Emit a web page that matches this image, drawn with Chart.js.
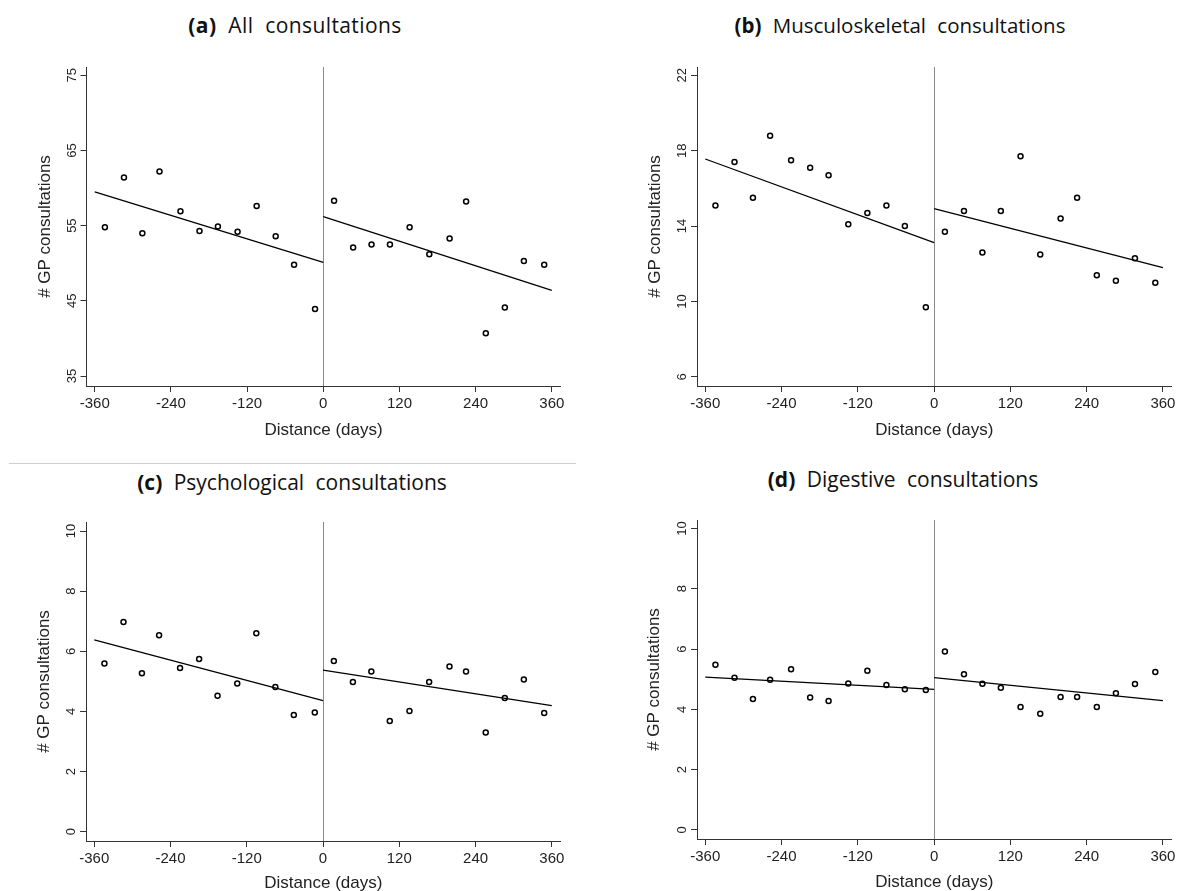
<!DOCTYPE html>
<html>
<head>
<meta charset="utf-8">
<script src="https://cdn.jsdelivr.net/npm/chart.js@4"></script>
<style>
  html, body { margin: 0; padding: 0; background: #fff; overflow: hidden; }
  #page { position: relative; width: 1178px; height: 891px; overflow: hidden; }
  canvas { position: absolute; }
  .panel-title {
    position: absolute;
    transform: translate(-50%, -50%);
    font-family: "Open Sans", "Noto Sans", sans-serif;
    font-size: 21px;
    letter-spacing: 0;
    word-spacing: 6px;
    color: #111;
    white-space: nowrap;
  }
  .panel-title b { font-weight: 700; }
  .divider { position: absolute; left: 9px; top: 463px; width: 567px; height: 1px; background: #cfcfcf; }
</style>
</head>
<body>
<div id="page">
  <div class="panel-title" style="left:295px; top:25px; letter-spacing:0.4px;"><b>(a)</b> All consultations</div>
  <div class="panel-title" style="left:900px; top:25px; font-size:20.5px;"><b>(b)</b> Musculoskeletal consultations</div>
  <div class="divider"></div>
  <div class="panel-title" style="left:292px; top:482px;"><b>(c)</b> Psychological consultations</div>
  <div class="panel-title" style="left:903px; top:479px;"><b>(d)</b> Digestive consultations</div>
  <canvas id="chartA" width="589" height="410" style="left:0px; top:40px;"></canvas>
  <canvas id="chartB" width="600" height="410" style="left:590px; top:40px;"></canvas>
  <canvas id="chartC" width="589" height="453" style="left:0px; top:450px;"></canvas>
  <canvas id="chartD" width="600" height="453" style="left:590px; top:450px;"></canvas>
</div>
<script>
// Monthly bins, days relative to the event
const X_BEFORE = [-344, -314, -285, -258, -225, -195, -166, -135, -105, -75, -46, -13];
const X_AFTER = [17, 47, 76, 105, 136, 167, 199, 225, 256, 286, 316, 348];
const X_TICKS = [-360, -240, -120, 0, 120, 240, 360];
const FIT_X_BEFORE = [-360, 0];
const FIT_X_AFTER = [0, 360];

// (a) All consultations
const ALL_BEFORE = [54.8, 61.4, 54.0, 62.2, 56.9, 54.3, 54.9, 54.2, 57.6, 53.6, 49.8, 43.9];
const ALL_AFTER = [58.3, 52.1, 52.5, 52.5, 54.8, 51.2, 53.3, 58.2, 40.7, 44.1, 50.3, 49.8];
const ALL_FIT_BEFORE = [59.5, 50.1];
const ALL_FIT_AFTER = [56.2, 46.4];
const ALL_Y_TICKS = [35, 45, 55, 65, 75];

// (b) Musculoskeletal consultations
const MSK_BEFORE = [15.1, 17.4, 15.5, 18.8, 17.5, 17.1, 16.7, 14.1, 14.7, 15.1, 14.0, 9.7];
const MSK_AFTER = [13.7, 14.8, 12.6, 14.8, 17.7, 12.5, 14.4, 15.5, 11.4, 11.1, 12.3, 11.0];
const MSK_FIT_BEFORE = [17.56, 13.12];
const MSK_FIT_AFTER = [14.93, 11.8];
const MSK_Y_TICKS = [6, 10, 14, 18, 22];

// (c) Psychological consultations
const PSY_BEFORE = [5.59, 6.97, 5.27, 6.53, 5.44, 5.74, 4.52, 4.93, 6.6, 4.81, 3.88, 3.96];
const PSY_AFTER = [5.68, 4.98, 5.33, 3.68, 4.01, 4.98, 5.49, 5.33, 3.3, 4.45, 5.06, 3.95];
const PSY_FIT_BEFORE = [6.38, 4.36];
const PSY_FIT_AFTER = [5.37, 4.19];
const PSY_Y_TICKS = [0, 2, 4, 6, 8, 10];

// (d) Digestive consultations
const DIG_BEFORE = [5.48, 5.05, 4.34, 4.98, 5.33, 4.39, 4.28, 4.86, 5.28, 4.81, 4.67, 4.64];
const DIG_AFTER = [5.92, 5.16, 4.85, 4.72, 4.08, 3.85, 4.41, 4.41, 4.08, 4.53, 4.84, 5.24];
const DIG_FIT_BEFORE = [5.07, 4.66];
const DIG_FIT_AFTER = [5.05, 4.29];
const DIG_Y_TICKS = [0, 2, 4, 6, 8, 10];

const AXIS_COLOR = "#333333";
const TICK_LEN = 6;
const TITLE_FONT_SIZE = 17;

Chart.defaults.font.family = '"Liberation Sans", Arial, sans-serif';
Chart.defaults.color = "#222";

// Stata draws y tick labels turned on their side
const sideways_y_ticks = {
  id: "sidewaysYTicks",
  afterDraw(chart) {
    const yScale = chart.scales.y;
    const ctx = chart.ctx;
    const x = chart.chartArea.left - TICK_LEN - 5;
    ctx.save();
    ctx.font = '13px "Liberation Sans", Arial, sans-serif';
    ctx.fillStyle = "#222";
    ctx.textAlign = "center";
    ctx.textBaseline = "alphabetic";
    yScale.ticks.forEach((tick) => {
      ctx.save();
      ctx.translate(x, yScale.getPixelForValue(tick.value));
      ctx.rotate(-Math.PI / 2);
      ctx.fillText(String(tick.value), 0, 0);
      ctx.restore();
    });
    ctx.restore();
  },
};

// grey vertical line at distance 0
const zero_line = {
  id: "zeroLine",
  beforeDatasetsDraw(chart) {
    const { ctx, chartArea } = chart;
    const px = Math.round(chart.scales.x.getPixelForValue(0)) + 0.5;
    ctx.save();
    ctx.strokeStyle = "#8a8a8a";
    ctx.lineWidth = 1;
    ctx.beginPath();
    ctx.moveTo(px, chartArea.top);
    ctx.lineTo(px, chartArea.bottom);
    ctx.stroke();
    ctx.restore();
  },
};

function toPoints(xs, ys) {
  return xs.map((x, i) => ({ x, y: ys[i] }));
}

function buildPanel(panel) {
  const [left, top, width, height] = panel.box;
  const [areaLeft, areaTop, areaRight, areaBottom] = panel.area;
  const lineHeight = TITLE_FONT_SIZE * 1.2;

  const scatterStyle = {
    type: "scatter",
    pointRadius: 2.5,
    pointHoverRadius: 2.5,
    pointBorderWidth: 1.5,
    pointBorderColor: "#000",
    pointBackgroundColor: "rgba(255,255,255,0)",
  };
  const fitStyle = {
    type: "line",
    borderColor: "#000",
    borderWidth: 1.3,
    pointRadius: 0,
    fill: false,
    tension: 0,
  };

  return new Chart(document.getElementById(panel.id), {
    data: {
      datasets: [
        { ...scatterStyle, data: toPoints(X_BEFORE, panel.before) },
        { ...scatterStyle, data: toPoints(X_AFTER, panel.after) },
        { ...fitStyle, data: toPoints(FIT_X_BEFORE, panel.fitBefore) },
        { ...fitStyle, data: toPoints(FIT_X_AFTER, panel.fitAfter) },
      ],
    },
    options: {
      responsive: false,
      animation: false,
      layout: {
        padding: {
          left: 0,
          top: areaTop - top,
          right: left + width - areaRight,
          bottom: 0,
        },
      },
      plugins: {
        legend: { display: false },
        tooltip: { enabled: false },
      },
      scales: {
        x: {
          type: "linear",
          min: panel.xRange[0],
          max: panel.xRange[1],
          afterBuildTicks(scale) {
            scale.ticks = X_TICKS.map((value) => ({ value }));
          },
          afterFit(scale) {
            scale.height = top + height - areaBottom;
          },
          ticks: {
            font: { size: 15 },
            color: "#222",
            padding: 3,
            maxRotation: 0,
            callback: (value) => String(value),
          },
          grid: {
            display: true,
            drawOnChartArea: false,
            drawTicks: true,
            tickLength: TICK_LEN,
            color: AXIS_COLOR,
          },
          border: { display: true, color: AXIS_COLOR, width: 1 },
          title: {
            display: true,
            text: "Distance (days)",
            font: { size: TITLE_FONT_SIZE },
            color: "#222",
            padding: { top: 0, bottom: top + height - lineHeight / 2 - panel.xTitleY },
          },
        },
        y: {
          type: "linear",
          min: panel.yRange[0],
          max: panel.yRange[1],
          afterBuildTicks(scale) {
            scale.ticks = panel.yTicks.map((value) => ({ value }));
          },
          afterFit(scale) {
            scale.width = areaLeft - left;
          },
          ticks: { display: false },
          grid: {
            display: true,
            drawOnChartArea: false,
            drawTicks: true,
            tickLength: TICK_LEN,
            color: AXIS_COLOR,
          },
          border: { display: true, color: AXIS_COLOR, width: 1 },
          title: {
            display: true,
            text: "# GP consultations",
            font: { size: TITLE_FONT_SIZE },
            color: "#222",
            padding: { top: panel.yTitleX - left - lineHeight / 2, bottom: 0 },
          },
        },
      },
    },
    plugins: [zero_line, sideways_y_ticks],
  });
}

const PANELS = [
  {
    id: "chartA",
    box: [0, 40, 589, 410],
    area: [86.5, 67, 560.7, 386],
    xRange: [-373, 374],
    yRange: [33.67, 76.1],
    yTicks: ALL_Y_TICKS,
    before: ALL_BEFORE,
    after: ALL_AFTER,
    fitBefore: ALL_FIT_BEFORE,
    fitAfter: ALL_FIT_AFTER,
    yTitleX: 45,
    xTitleY: 430,
  },
  {
    id: "chartB",
    box: [590, 40, 600, 410],
    area: [697, 67, 1171.5, 386],
    xRange: [-373, 373.5],
    yRange: [5.52, 22.44],
    yTicks: MSK_Y_TICKS,
    before: MSK_BEFORE,
    after: MSK_AFTER,
    fitBefore: MSK_FIT_BEFORE,
    fitAfter: MSK_FIT_AFTER,
    yTitleX: 655.5,
    xTitleY: 430,
  },
  {
    id: "chartC",
    box: [0, 450, 589, 453],
    area: [86, 522, 560.7, 841],
    xRange: [-373, 374],
    yRange: [-0.31, 10.3],
    yTicks: PSY_Y_TICKS,
    before: PSY_BEFORE,
    after: PSY_AFTER,
    fitBefore: PSY_FIT_BEFORE,
    fitAfter: PSY_FIT_AFTER,
    yTitleX: 44.5,
    xTitleY: 883,
  },
  {
    id: "chartD",
    box: [590, 450, 600, 453],
    area: [697, 520, 1171.5, 839],
    xRange: [-373, 373.5],
    yRange: [-0.3, 10.28],
    yTicks: DIG_Y_TICKS,
    before: DIG_BEFORE,
    after: DIG_AFTER,
    fitBefore: DIG_FIT_BEFORE,
    fitAfter: DIG_FIT_AFTER,
    yTitleX: 654.5,
    xTitleY: 882,
  },
];

PANELS.forEach(buildPanel);
</script>
</body>
</html>
